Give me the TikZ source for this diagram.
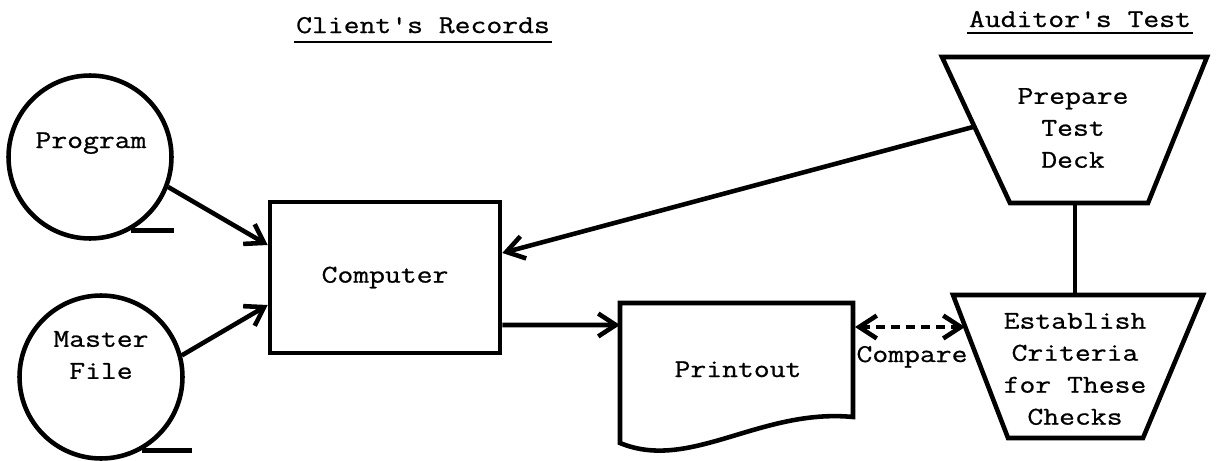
\documentclass[tikz,border=0pt]{standalone}
\usepackage{fontspec}
\setmonofont{Latin Modern Mono}[FakeStretch=1.2,FakeBold=0.8]
\usetikzlibrary{arrows.meta}

\begin{document}
\begin{tikzpicture}[x=0.02cm,y=-0.02cm,line width=2.6pt,
  font=\ttfamily\fontsize{14.6}{18.2}\selectfont,
  flow/.style={-{Straight Barb[length=10pt,width=13pt]}},
  both/.style={{Straight Barb[length=10pt,width=13pt]}-{Straight Barb[length=10pt,width=13pt]},dash pattern=on 5pt off 3.5pt},
  tape/.style={circle,draw,inner sep=0pt,minimum size=3.26cm},
  txt/.style={inner sep=0pt,align=center}]
\useasboundingbox (0,0) rectangle (1217,460);

% headings
\node[txt,anchor=base] (client) at (423,33) {Client's Records};
\draw[line width=1.2pt] ([yshift=-0.18cm]client.base west) -- ([yshift=-0.18cm]client.base east);
\node[txt,anchor=base] (auditor) at (1080,27) {Auditor's Test};
\draw[line width=1.2pt] ([yshift=-0.12cm]auditor.base west) -- ([yshift=-0.12cm]auditor.base east);

% tapes
\node[tape] (prog) at (90,157) {};
\node[txt,anchor=base] (progtxt) at (91,148) {Program};
\draw (prog.-61) -- ++(43,0);
\node[tape] (mast) at (101,377) {};
\node[txt] (masttxt) at (101,355) {Master\\File};
\draw (mast.-61) -- ++(50,0);

% computer
\node[draw,minimum width=4.6cm,minimum height=3.02cm] (comp) at (385,277.5) {Computer};

% printout
\coordinate (prtL) at (620,325);
\coordinate (prtR) at (855,327);
\draw (620,303) -- (853,303) -- (853,417) .. controls (760,408) and (690,472) .. (620,443) -- cycle;
\node[txt,anchor=base] (prt) at (738,377) {Printout};

% auditor side
\draw (942,57) -- (1207,57) -- (1148,203) -- (1010,203) -- cycle;
\node[txt] (prep) at (1073,128) {Prepare\\Test\\Deck};
\coordinate (prepL) at (973,127);
\coordinate (prepB) at (1075,203);
\draw (953,295) -- (1203,295) -- (1143,438) -- (1008,438) -- cycle;
\node[txt] (est) at (1075,369) {Establish\\Criteria\\for These\\Checks};
\coordinate (estT) at (1075,295);
\coordinate (estL) at (965,327);

% connectors
\draw[flow] (prog.-21) -- ([yshift=0.65cm]comp.west);
\draw[flow] (mast.15) -- ([yshift=-0.55cm]comp.west);
\draw[flow] (prepL) -- ([yshift=0.49cm]comp.east);
\draw[flow] ([yshift=-0.95cm]comp.east) -- (prtL);
\draw (prepB) -- (estT);
\draw[both] (prtR) -- (estL);
\node[txt,anchor=base] (cmp) at (912,362) {Compare};
\end{tikzpicture}
\end{document}
